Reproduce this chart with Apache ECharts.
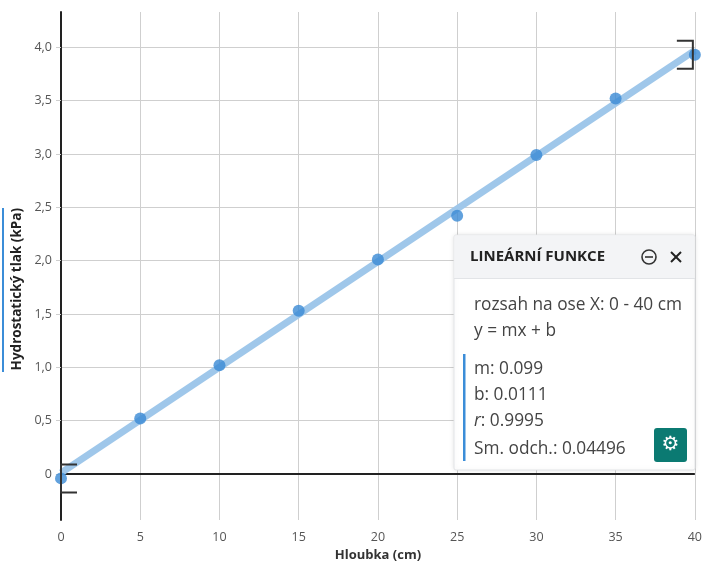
<!DOCTYPE html>
<html><head><meta charset="utf-8">
<script src="https://cdn.jsdelivr.net/npm/echarts@6/dist/echarts.min.js"></script>
<style>html,body{margin:0;padding:0;background:#fff}#c{width:705px;height:569px}</style>
</head><body><div id="c"></div>
<script>
const depths = [0, 5, 10, 15, 20, 25, 30, 35, 40];
const pressures = [-0.04, 0.52, 1.02, 1.53, 2.01, 2.42, 2.99, 3.52, 3.93];
const yTicks = [0, 0.5, 1, 1.5, 2, 2.5, 3, 3.5, 4];
const fitM = 0.099, fitB = 0.0111;
const fitRange = [0, 40];
const xName = 'Hloubka (cm)';
const yName = 'Hydrostatický tlak (kPa)';
const panelTitle = 'LINEÁRNÍ FUNKCE';
const panelLines = ['rozsah na ose X: 0 - 40 cm', 'y = mx + b'];
const statLabels = ['m: ', 'b: ', 'r', 'Sm. odch.: '];
const statValues = ['0.099', '0.0111', '0.9995', '0.04496'];

const font = '"Open Sans", "Noto Sans", sans-serif';
const chart = echarts.init(document.getElementById('c'));
const points = depths.map((d, i) => [d, pressures[i]]);
const fitLine = fitRange.map(x => [x, fitM * x + fitB]);
const brackets = [[points[0][0], points[0][1], 1], [points[points.length-1][0], points[points.length-1][1], -1]];

const px = 454, py = 235, pw = 241, ph = 235;
const bodyFont = '17.3px ' + font;
const Z = 100;
const panelChildren = [
    {type: 'rect', shape: {x: 0, y: 0, width: pw, height: ph, r: 2}, style: {fill: '#fff', stroke: '#e2e4e7', lineWidth: 1, shadowBlur: 5, shadowColor: 'rgba(0,0,0,0.10)'}},
    {type: 'rect', shape: {x: 0.5, y: 0.5, width: pw - 1, height: 43}, style: {fill: '#f3f4f6'}},
    {type: 'line', shape: {x1: 0, y1: 43.5, x2: pw, y2: 43.5}, style: {stroke: '#e2e4e7', lineWidth: 1}},
    {type: 'text', x: 16, y: 22, style: {text: panelTitle, font: 'bold 15px ' + font, fill: '#222', verticalAlign: 'middle'}},
    {type: 'circle', shape: {cx: 195, cy: 22, r: 7}, style: {fill: 'none', stroke: '#333', lineWidth: 1.6}},
    {type: 'line', shape: {x1: 191, y1: 22, x2: 199, y2: 22}, style: {stroke: '#333', lineWidth: 1.6}},
    {type: 'line', shape: {x1: 217, y1: 17, x2: 227, y2: 27}, style: {stroke: '#222', lineWidth: 2}},
    {type: 'line', shape: {x1: 227, y1: 17, x2: 217, y2: 27}, style: {stroke: '#222', lineWidth: 2}},
    {type: 'text', x: 20, y: 70, style: {text: panelLines[0], font: bodyFont, fill: '#444', verticalAlign: 'middle'}},
    {type: 'text', x: 20, y: 96, style: {text: panelLines[1], font: bodyFont, fill: '#444', verticalAlign: 'middle'}},
    {type: 'rect', shape: {x: 9, y: 119, width: 2.5, height: 107}, style: {fill: '#3b8dd8'}},
    {type: 'text', x: 20, y: 134, style: {text: statLabels[0] + statValues[0], font: bodyFont, fill: '#444', verticalAlign: 'middle'}},
    {type: 'text', x: 20, y: 160, style: {text: statLabels[1] + statValues[1], font: bodyFont, fill: '#444', verticalAlign: 'middle'}},
    {type: 'text', x: 20, y: 186, style: {rich: {i: {font: 'italic ' + bodyFont, fill: '#444'}, n: {font: bodyFont, fill: '#444'}}, text: '{i|' + statLabels[2] + '}{n|: ' + statValues[2] + '}', verticalAlign: 'middle'}},
    {type: 'text', x: 20, y: 214, style: {text: statLabels[3] + statValues[3], font: bodyFont, fill: '#444', verticalAlign: 'middle'}},
    {type: 'rect', shape: {x: 200, y: 193, width: 33, height: 34, r: 3}, style: {fill: '#0b7a72'}},
    {type: 'text', x: 216.5, y: 210, style: {text: '⚙', font: '20px "DejaVu Sans"', fill: '#fff', align: 'center', verticalAlign: 'middle'}}
];
panelChildren.forEach((c, i) => { c.z = Z + i; });
const panel = {type: 'group', x: px, y: py, z: Z, children: panelChildren};

chart.setOption({
  animation: false,
  grid: {left: 61, right: 8, top: 12, bottom: 49},
  xAxis: {
    type: 'value', min: 0, max: 40, interval: 5,
    name: xName, nameLocation: 'middle', nameGap: 27,
    nameTextStyle: {fontFamily: font, fontWeight: 'bold', fontSize: 13, color: '#333'},
    axisLine: {show: true, lineStyle: {color: '#e0e0e0', width: 1}},
    axisTick: {show: false},
    axisLabel: {fontFamily: font, fontSize: 12.5, color: '#555', margin: 11},
    splitLine: {show: true, lineStyle: {color: '#cfcfcf', width: 1}}
  },
  yAxis: {
    type: 'value', min: -0.43, max: 4.33,
    axisLine: {show: true, onZero: false, lineStyle: {color: '#222', width: 2}},
    axisTick: {show: true, length: 5, customValues: yTicks, lineStyle: {color: '#cfcfcf'}},
    axisLabel: {customValues: yTicks, fontFamily: font, fontSize: 12.5, color: '#555', margin: 9,
      formatter: v => v === 0 ? '0' : v.toFixed(1).replace('.', ',')},
    splitLine: {show: true, lineStyle: {color: '#cfcfcf', width: 1}}
  },
  graphic: [
    {type: 'rect', x: 2, y: 208, shape: {width: 2, height: 164}, style: {fill: '#3b8dd8'}},
    {type: 'text', x: 17, y: 208, rotation: Math.PI / 2, style: {text: yName, font: 'bold 13.5px ' + font, fill: '#222', align: 'right', verticalAlign: 'middle'}, silent: true},
    panel
  ],
  series: [
    {type: 'line', data: fitLine, symbol: 'none', lineStyle: {color: '#9fc7ea', width: 7}, z: 3, silent: true,
      markLine: {silent: true, symbol: 'none', label: {show: false}, lineStyle: {color: '#222', width: 2, type: 'solid'}, data: [{yAxis: 0}], z: 2}},
    {type: 'scatter', data: points, symbolSize: 12, itemStyle: {color: '#3a89d5'}, z: 4},
    {type: 'custom', data: brackets, z: 5, silent: true,
      renderItem: (params, api) => {
        const p = api.coord([api.value(0), api.value(1)]);
        const d = api.value(2);
        const x = d > 0 ? p[0] : p[0] - 2;
        const h = 14, w = 16;
        return {type: 'polyline', shape: {points: [[x + d * w, p[1] - h], [x, p[1] - h], [x, p[1] + h], [x + d * w, p[1] + h]]},
          style: {stroke: '#333', lineWidth: 2, fill: 'none'}};
      }}
  ]
});
</script></body></html>
